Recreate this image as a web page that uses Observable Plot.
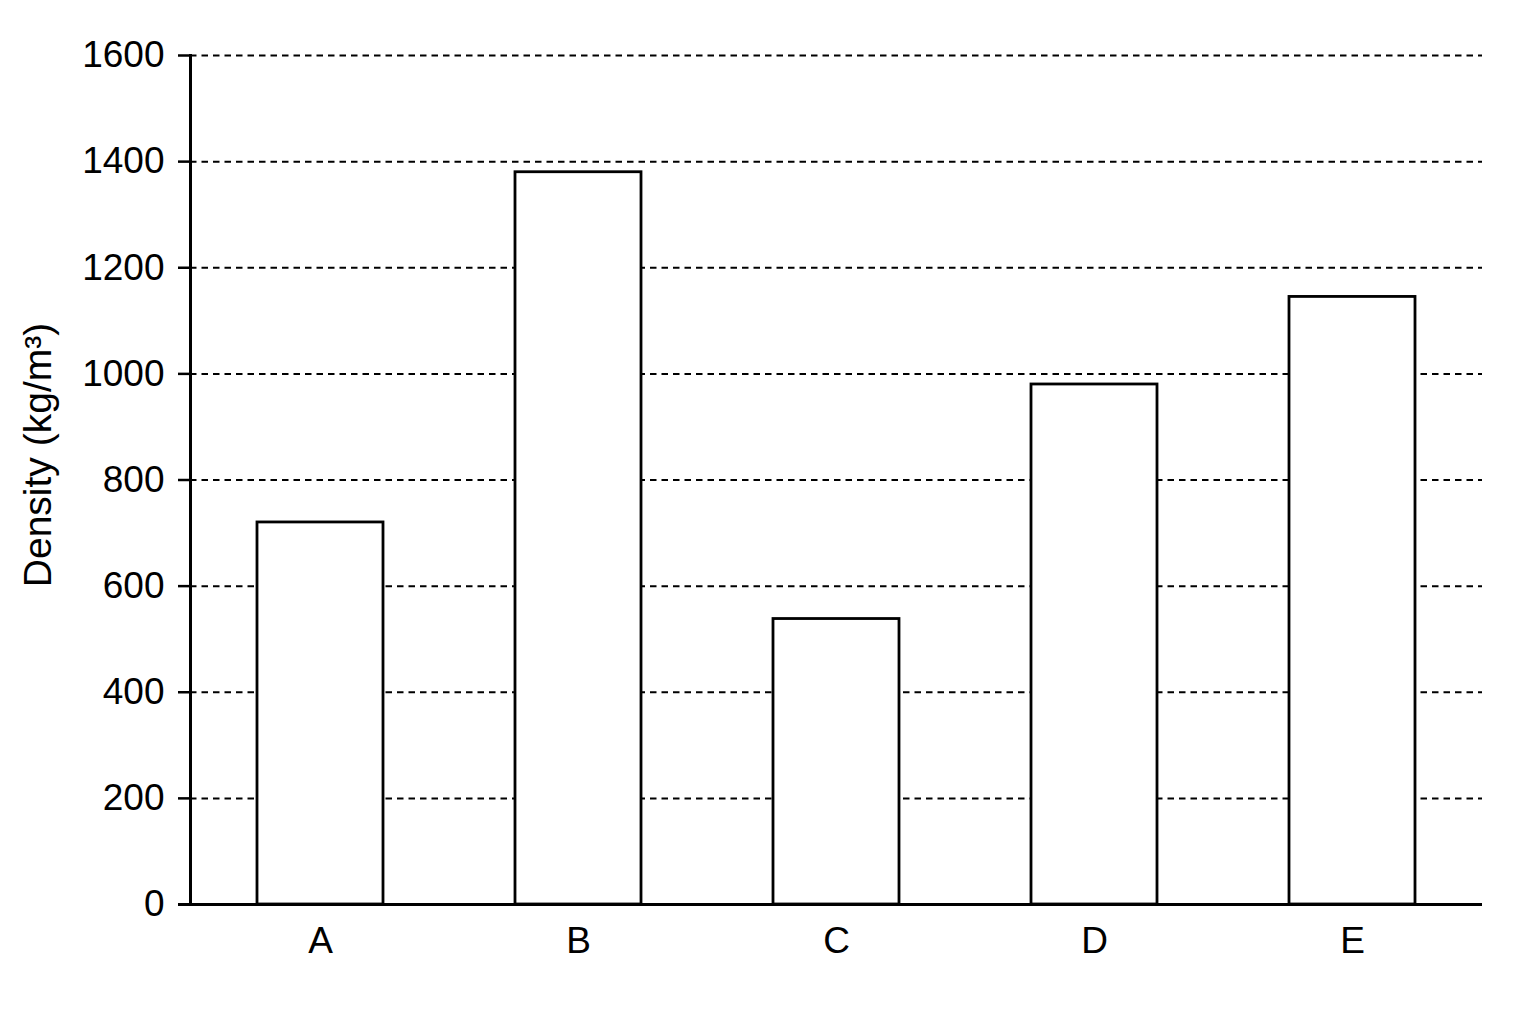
<!DOCTYPE html>
<html>
<head>
<meta charset="utf-8">
<script src="https://cdn.jsdelivr.net/npm/d3@7"></script>
<script src="https://cdn.jsdelivr.net/npm/@observablehq/plot@0.6"></script>
<style>
  html, body { margin: 0; padding: 0; background: #fff; }
  #chart { width: 1536px; height: 1024px; }
</style>
</head>
<body>
<div id="chart"></div>
<script>
const categories = ["A", "B", "C", "D", "E"];
const densities = [720, 1380, 538, 980, 1145];
const yTicks = [0, 200, 400, 600, 800, 1000, 1200, 1400, 1600];
const yLabel = "Density (kg/m³)";

const data = categories.map((c, i) => ({category: c, density: densities[i]}));

const plot = Plot.plot({
  width: 1536,
  height: 1024,
  marginLeft: 190,
  marginRight: 54,
  marginTop: 55,
  marginBottom: 120,
  style: {fontFamily: "'Liberation Sans', Arial, sans-serif", background: "#fff", color: "#000"},
  x: {domain: categories, paddingInner: 0.51, paddingOuter: 0.25, label: null},
  y: {domain: [0, 1600], label: null},
  marks: [
    Plot.gridY(yTicks.filter(d => d > 0), {stroke: "#000", strokeOpacity: 1, strokeWidth: 2, strokeDasharray: "6.5,5"}),
    Plot.barY(data, {x: "category", y: "density", fill: "#fff", stroke: "#000", strokeWidth: 2.8}),
    Plot.axisY({ticks: yTicks, tickSize: 12, tickPadding: 14, fontSize: 37, tickFormat: d => String(d), stroke: "#000", strokeWidth: 2.5, label: null}),
    Plot.axisX({tickSize: 0, tickPadding: 22, fontSize: 37, label: null}),
    Plot.ruleY([0], {stroke: "#000", strokeWidth: 3, insetLeft: -12}),
    Plot.frame({anchor: "left", stroke: "#000", strokeWidth: 3}),
    Plot.text([yLabel], {frameAnchor: "left", textAnchor: "middle", dx: -152, dy: -25, rotate: -90, fontSize: 39, fill: "#000"})
  ]
});
document.getElementById("chart").appendChild(plot);
</script>
</body>
</html>
